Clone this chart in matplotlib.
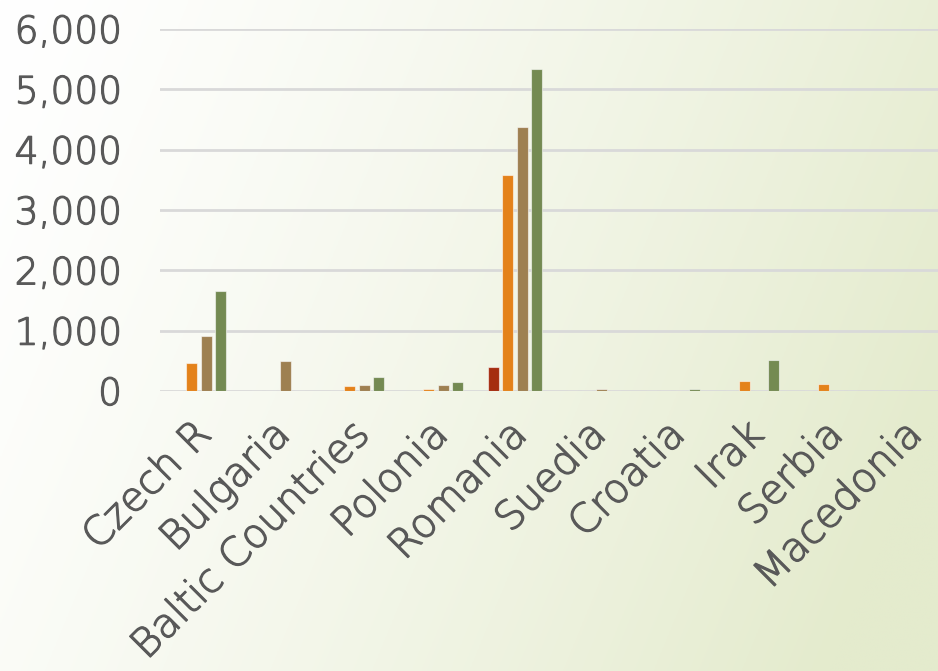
import numpy as np
import matplotlib.pyplot as plt
import matplotlib.transforms as mtrans
import matplotlib.patheffects as pe

# data
countries = ['Czech R', 'Bulgaria', 'Baltic Countries', 'Polonia', 'Romania',
             'Suedia', 'Croatia', 'Irak', 'Serbia', 'Macedonia']
series_1 = [0, 0, 0, 0, 405, 0, 0, 0, 0, 0]
series_2 = [470, 8, 83, 38, 3580, 0, 0, 166, 116, 6]
series_3 = [912, 497, 105, 95, 4380, 38, 0, 0, 0, 0]
series_4 = [1658, 0, 232, 150, 5340, 0, 25, 509, 0, 0]

colors = ['#A52D10', '#E4821A', '#9E8051', '#748A52']
text_color = '#595959'

fig = plt.figure(figsize=(9.38, 6.71), dpi=100)

# background gradient (white top-left -> pale green right)
bg = fig.add_axes([0, 0, 1, 1], zorder=-10)
xx, yy = np.meshgrid(np.linspace(0, 1, 400), np.linspace(0, 1, 300))
t = np.clip(0.85 * xx + 0.25 * yy, 0, 1) ** 1.3
c0 = np.array([255, 255, 255]) / 255
c1 = np.array([228, 235, 205]) / 255
img = c0[None, None, :] * (1 - t[..., None]) + c1[None, None, :] * t[..., None]
bg.imshow(img, aspect='auto', extent=[0, 1, 0, 1], origin='upper')
bg.axis('off')

ax = fig.add_axes([159.5 / 938, 280 / 671, 790 / 938, 362 / 671])
ax.patch.set_alpha(0)

x = np.arange(len(countries))
step = 0.184
width = 0.14
for i, vals in enumerate([series_1, series_2, series_3, series_4]):
    ax.bar(x + (i - 1.5) * step, vals, width, color=colors[i],
           edgecolor=(1, 1, 1, 0.55), linewidth=0.8, zorder=3)

ax.set_xlim(-0.5, 9.5)
ax.set_ylim(0, 6000)
ax.set_yticks(range(0, 6001, 1000))
ax.set_yticklabels([f'{v:,}' for v in range(0, 6001, 1000)])
ax.yaxis.grid(True, color='#D9D9D9', linewidth=2)
ax.set_axisbelow(True)
for s in ax.spines.values():
    s.set_visible(False)

ax.set_xticks(x)
ax.set_xticklabels(countries, rotation=45, ha='right', va='top',
                   rotation_mode='anchor')
ax.tick_params(axis='both', length=0, labelcolor=text_color)
ax.tick_params(axis='y', pad=27, labelsize=27)
ax.tick_params(axis='x', pad=17, labelsize=29)

# light weight, thickened a little to match the reference stroke
thicken = [pe.withStroke(linewidth=0.9, foreground=text_color)]
shift = mtrans.ScaledTranslation(-8 / 100, 0, fig.dpi_scale_trans)
for lab in ax.get_xticklabels():
    lab.set_family('DejaVu Sans')
    lab.set_weight('light')
    lab.set_path_effects(thicken)
    lab.set_transform(lab.get_transform() + shift)
for lab in ax.get_yticklabels():
    lab.set_family('DejaVu Sans')
    lab.set_weight('light')
    lab.set_path_effects(thicken)

fig.savefig('out.png', dpi=100)
